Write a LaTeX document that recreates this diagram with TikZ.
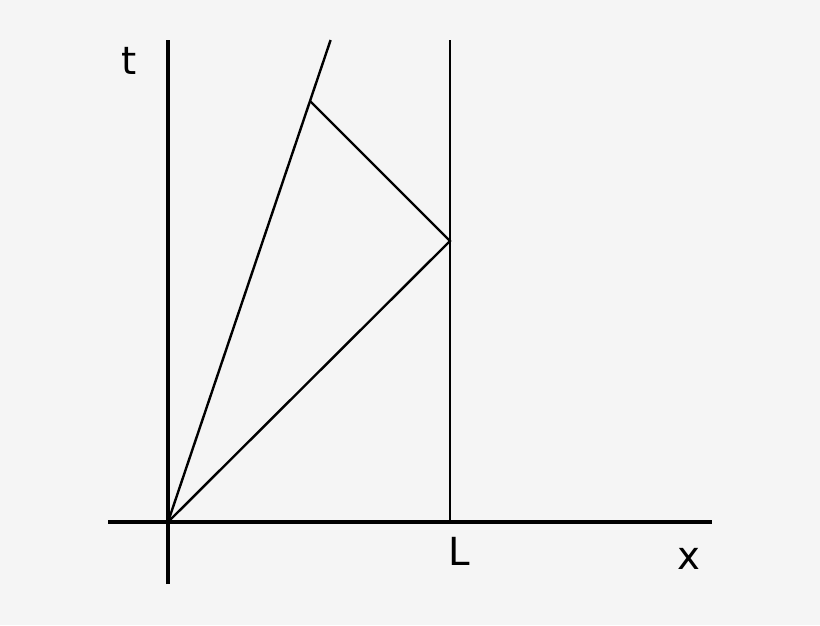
\documentclass[tikz,border=0pt]{standalone}
\usepackage{fontspec}
\setmainfont{DejaVu Sans}
\begin{document}
\begin{tikzpicture}[
        x=0.75pt, y=-0.75pt,
        axis/.style={line width=2.8pt},
        wline/.style={line width=1.8pt},
        lbl/.style={inner sep=0pt, font=\fontsize{29}{29}\selectfont}
    ]
        % background and frame
        \fill[black!4] (0,0) rectangle (820,625);
        \useasboundingbox (0,0) rectangle (820,625);
        % points
        \coordinate (origin) at (168,522);
        \coordinate (xleft) at (108,522);
        \coordinate (xright) at (712,522);
        \coordinate (tbottom) at (168,584);
        \coordinate (ttop) at (168,40);
        \coordinate (wallfoot) at (450,522);
        \coordinate (walltop) at (450,40);
        \coordinate (bounce) at (450,241);
        \coordinate (meet) at (310,101);
        \coordinate (raytop) at (330.6,40);
        % axes
        \draw[axis] (xleft) -- (xright);
        \draw[axis] (tbottom) -- (ttop);
        % world lines
        \draw[wline] (wallfoot) -- (walltop);
        \draw[wline] (origin) -- (raytop);
        \draw[wline] (origin) -- (bounce) -- (meet);
        % labels
        \node[lbl] (tlabel) at (129,61) {t};
        \node[lbl] (llabel) at (459,551) {L};
        \node[lbl] (xlabel) at (689,559) {x};
    \end{tikzpicture}
\end{document}
